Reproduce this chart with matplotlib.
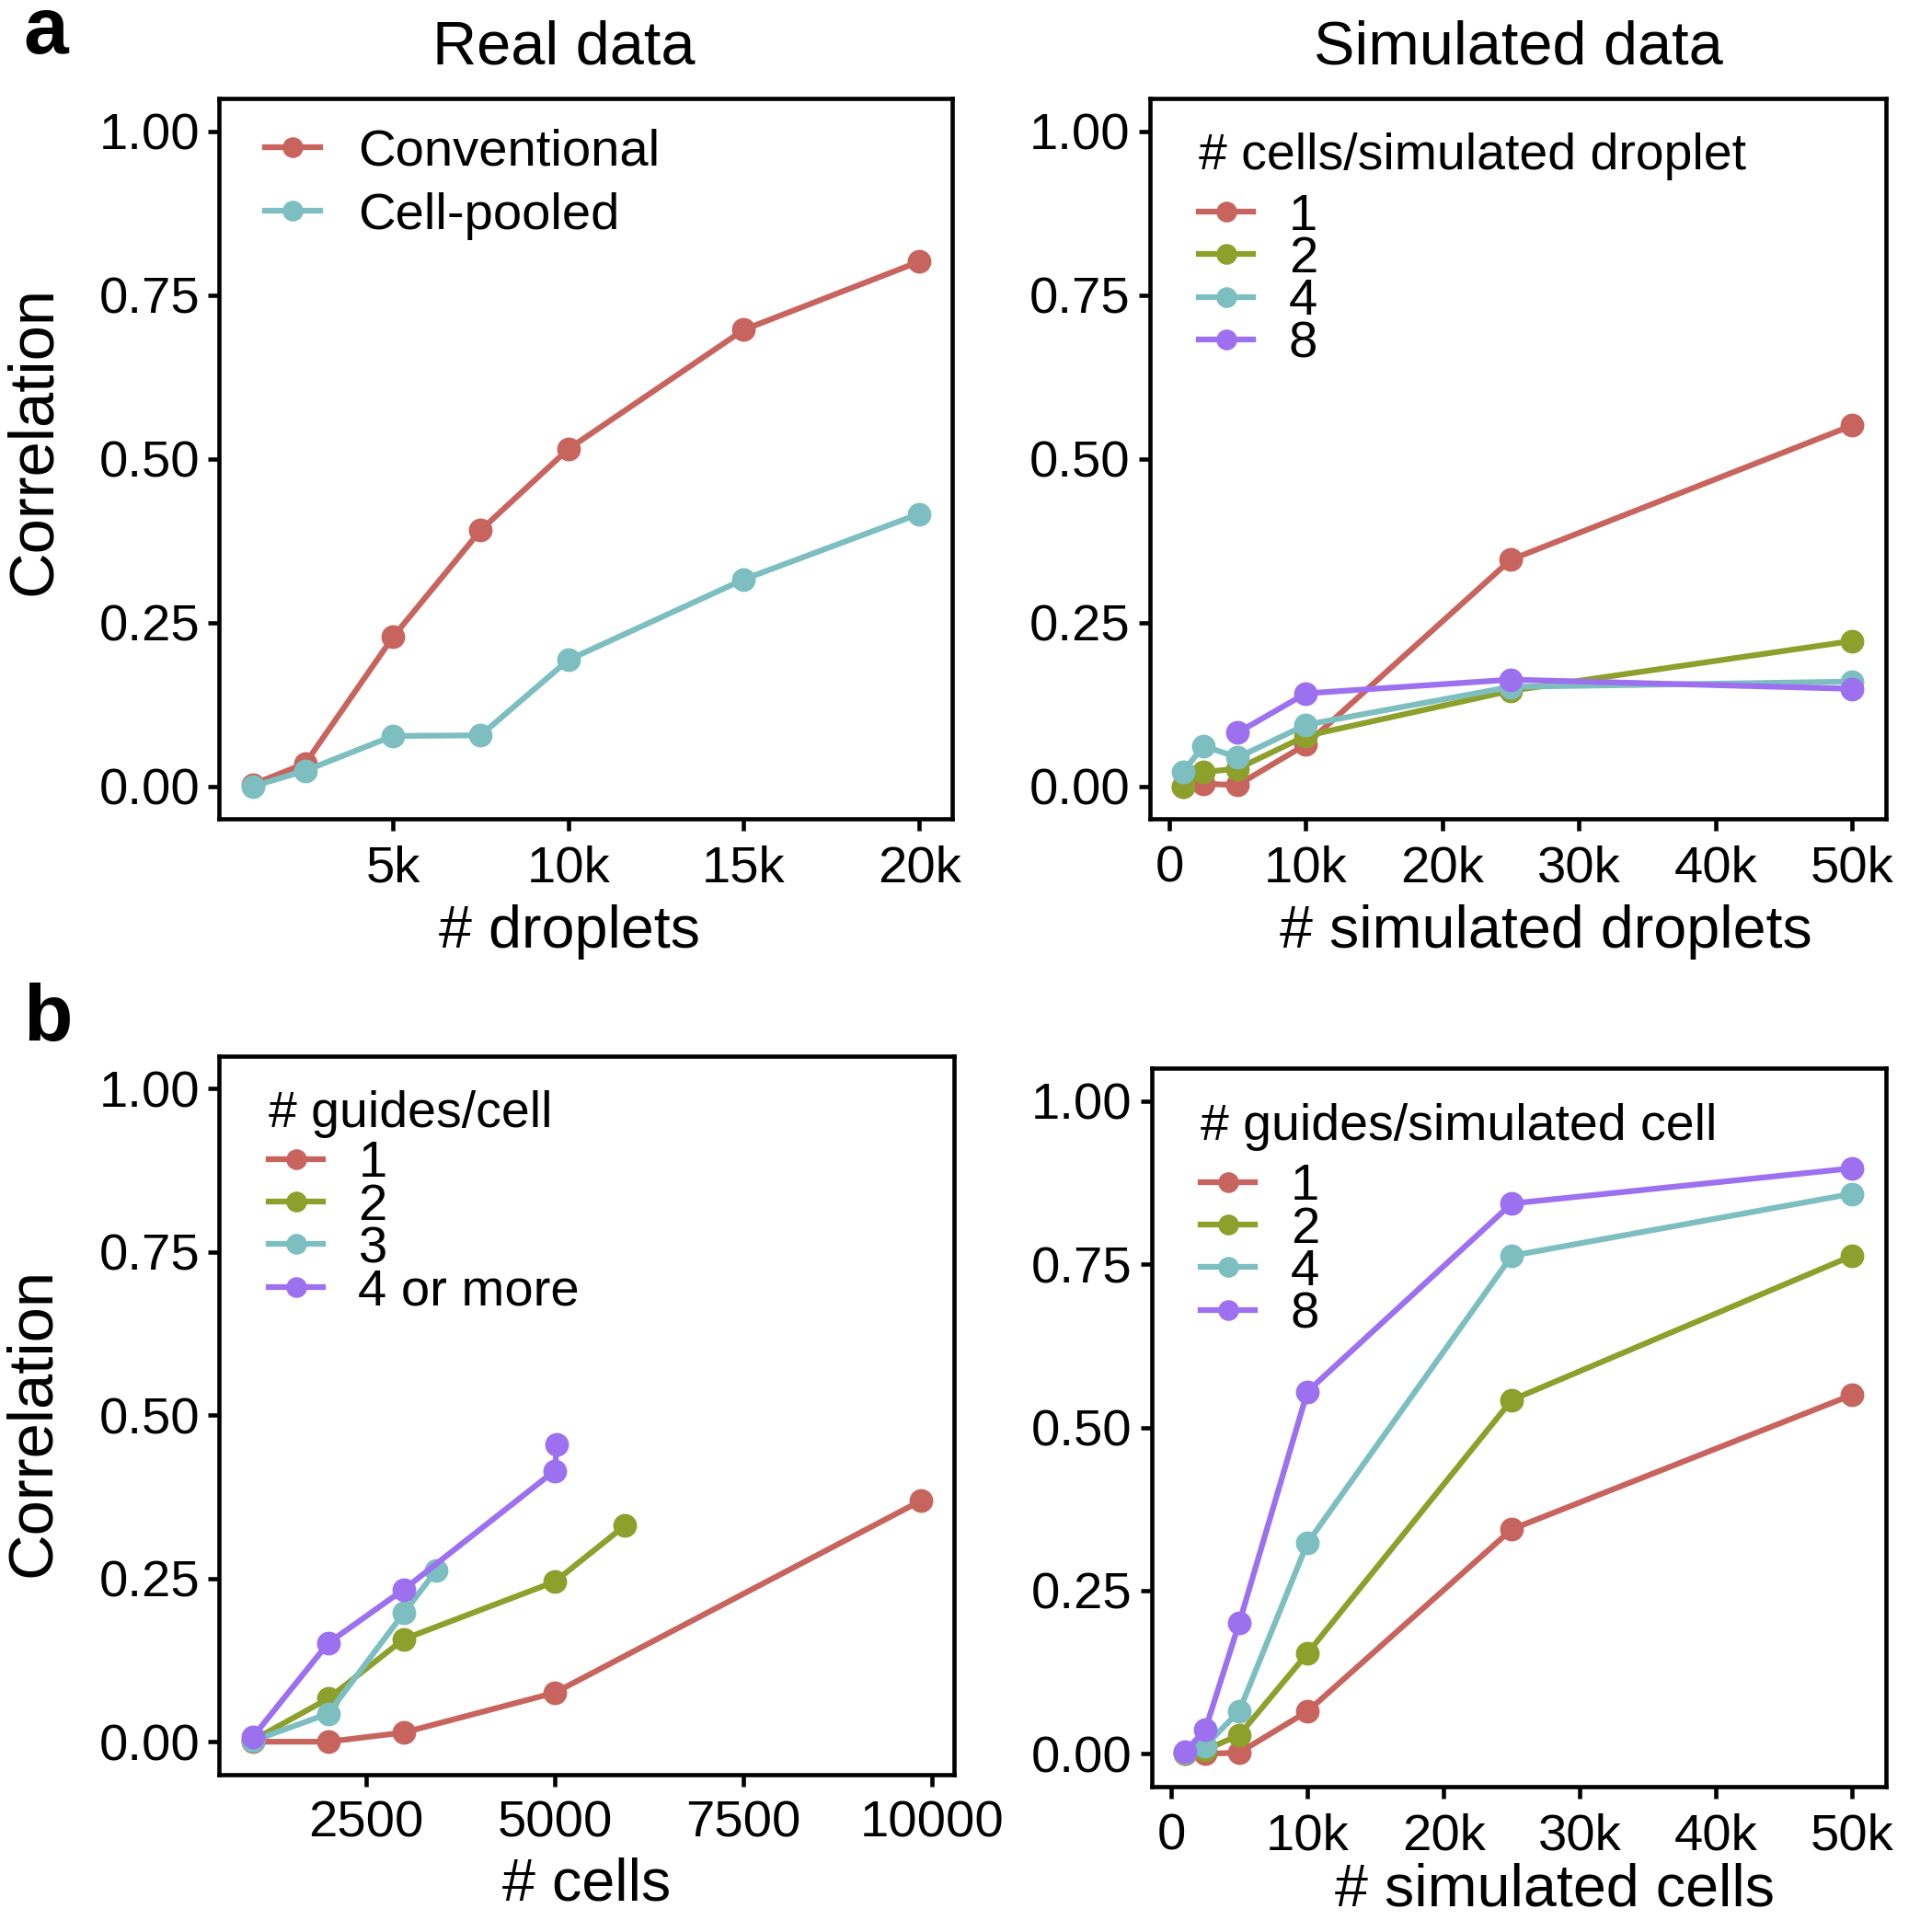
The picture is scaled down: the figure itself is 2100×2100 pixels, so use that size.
import matplotlib
matplotlib.use('Agg')
import matplotlib.pyplot as plt
import numpy as np

plt.rcParams['font.family'] = ['Liberation Sans', 'DejaVu Sans']

# colours (muted ggplot hues)
c_red = '#C8645E'
c_green = '#8DA02B'
c_teal = '#7DBEC0'
c_purple = '#9D70F0'

# ---------- panel a, real data ----------
droplets = [1000, 2500, 5000, 7500, 10000, 15000, 20000]
conventional = [0.003, 0.035, 0.228, 0.391, 0.515, 0.697, 0.801]
cell_pooled = [0.000, 0.024, 0.077, 0.078, 0.193, 0.316, 0.416]

# ---------- panel a, simulated data ----------
sim_droplets = [1000, 2500, 5000, 10000, 25000, 50000]
sim_drop_labels = ['1', '2', '4', '8']
sim_drop_1 = [0.000, 0.004, 0.002, 0.064, 0.346, 0.551]
sim_drop_2 = [0.000, 0.022, 0.027, 0.077, 0.146, 0.222]
sim_drop_4 = [0.022, 0.062, 0.044, 0.094, 0.152, 0.160]
sim_drop_8 = [np.nan, np.nan, 0.082, 0.142, 0.163, 0.149]

# ---------- panel b, real data ----------
guide_labels = ['1', '2', '3', '4 or more']
cells_g1 = [1000, 2000, 3000, 5000, 9850]
corr_g1 = [0.000, 0.000, 0.014, 0.075, 0.369]
cells_g2 = [1000, 2000, 3000, 5000, 5930]
corr_g2 = [0.002, 0.066, 0.157, 0.245, 0.331]
cells_g3 = [1000, 2000, 3000, 3430]
corr_g3 = [0.001, 0.043, 0.197, 0.262]
cells_g4 = [1000, 2000, 3000, 5000, 5030]
corr_g4 = [0.007, 0.151, 0.233, 0.415, 0.455]

# ---------- panel b, simulated data ----------
sim_cells = [1000, 2500, 5000, 10000, 25000, 50000]
sim_guide_labels = ['1', '2', '4', '8']
sim_g1 = [0.000, 0.000, 0.002, 0.065, 0.344, 0.550]
sim_g2 = [0.000, 0.006, 0.029, 0.154, 0.542, 0.763]
sim_g4 = [0.002, 0.012, 0.066, 0.323, 0.763, 0.858]
sim_g8 = [0.003, 0.037, 0.201, 0.555, 0.843, 0.897]

y_ticks = [0, 0.25, 0.5, 0.75, 1.0]
y_ticklabels = ['0.00', '0.25', '0.50', '0.75', '1.00']
k_ticks = [0, 10000, 20000, 30000, 40000, 50000]
k_ticklabels = ['0', '10k', '20k', '30k', '40k', '50k']

lw = 1.5
ms = 5.2
fs_tick = 13.5
fs_lab = 15.5
fs_ylab = 16.5
fs_leg = 13.5


def style(ax):
    for s in ax.spines.values():
        s.set_linewidth(1.1)
    ax.tick_params(direction='out', length=3, width=1.1, labelsize=fs_tick,
                   colors='black')
    ax.tick_params(axis='x', pad=3.8)
    ax.tick_params(axis='y', pad=2)
    ax.set_ylim(-0.05, 1.05)
    ax.set_yticks(y_ticks)
    ax.set_yticklabels(y_ticklabels)


def line(ax, x, y, col, lab):
    ax.plot(x, y, '-o', color=col, lw=lw, ms=ms, label=lab)


def group_legend(ax, title, title_gap):
    leg = ax.legend(loc='upper left', bbox_to_anchor=(0.004, 1.017), borderaxespad=0,
                    frameon=False, fontsize=fs_leg, title=title, title_fontsize=13.3,
                    handlelength=1.05, handletextpad=0.68, labelspacing=-0.1,
                    borderpad=0.9, markerscale=0.85)
    leg._legend_box.align = 'left'
    # extra room between the title and the first entry
    leg._legend_box.sep = title_gap
    return leg


fig = plt.figure(figsize=(7, 7), dpi=300)

ax1 = fig.add_axes([0.1135, 0.576, 0.3795, 0.373])
ax2 = fig.add_axes([0.595, 0.576, 0.381, 0.373])
ax3 = fig.add_axes([0.1135, 0.0816, 0.3805, 0.3718])
ax4 = fig.add_axes([0.596, 0.0753, 0.380, 0.3717])

# a left
line(ax1, droplets, conventional, c_red, 'Conventional')
line(ax1, droplets, cell_pooled, c_teal, 'Cell-pooled')
style(ax1)
ax1.set_xlim(50, 20950)
ax1.set_xticks([5000, 10000, 15000, 20000])
ax1.set_xticklabels(['5k', '10k', '15k', '20k'])
ax1.set_xlabel('# droplets', fontsize=fs_lab)
ax1.xaxis.set_label_coords(0.478, -0.118)
ax1.set_ylabel('Correlation', fontsize=fs_ylab)
ax1.yaxis.set_label_coords(-0.213, 0.525)
ax1.legend(loc='upper left', bbox_to_anchor=(0.034, 0.987), borderaxespad=0,
           frameon=False, fontsize=13.5, handlelength=1.07, handletextpad=0.72,
           labelspacing=0.3, markerscale=0.85)

# a right
for yy, col, lab in zip([sim_drop_1, sim_drop_2, sim_drop_4, sim_drop_8],
                        [c_red, c_green, c_teal, c_purple], sim_drop_labels):
    line(ax2, sim_droplets, yy, col, lab)
style(ax2)
ax2.set_xlim(-1450, 52450)
ax2.set_xticks(k_ticks)
ax2.set_xticklabels(k_ticklabels)
ax2.set_xlabel('# simulated droplets', fontsize=fs_lab)
ax2.xaxis.set_label_coords(0.539, -0.118)
group_legend(ax2, '# cells/simulated droplet', 3.2)

# b left
for xx, yy, col, lab in zip([cells_g1, cells_g2, cells_g3, cells_g4],
                            [corr_g1, corr_g2, corr_g3, corr_g4],
                            [c_red, c_green, c_teal, c_purple], guide_labels):
    line(ax3, xx, yy, col, lab)
style(ax3)
ax3.set_xlim(558, 10292)
ax3.set_xticks([2500, 5000, 7500, 10000])
ax3.set_xticklabels(['2500', '5000', '7500', '10000'])
ax3.set_xlabel('# cells', fontsize=fs_lab)
ax3.xaxis.set_label_coords(0.50, -0.115)
ax3.set_ylabel('Correlation', fontsize=fs_ylab)
ax3.yaxis.set_label_coords(-0.213, 0.49)
group_legend(ax3, '# guides/cell', 0.5)

# b right
for yy, col, lab in zip([sim_g1, sim_g2, sim_g4, sim_g8],
                        [c_red, c_green, c_teal, c_purple], sim_guide_labels):
    line(ax4, sim_cells, yy, col, lab)
style(ax4)
ax4.set_xlim(-1450, 52450)
ax4.set_xticks(k_ticks)
ax4.set_xticklabels(k_ticklabels)
ax4.set_xlabel('# simulated cells', fontsize=fs_lab)
ax4.xaxis.set_label_coords(0.549, -0.106)
group_legend(ax4, '# guides/simulated cell', 3.3)

fig.text(0.292, 0.975, 'Real data', fontsize=16, ha='center', va='center')
fig.text(0.786, 0.975, 'Simulated data', fontsize=16, ha='center', va='center')
fig.text(0.012, 0.983, 'a', fontsize=21, fontweight='bold', ha='left', va='center')
fig.text(0.012, 0.472, 'b', fontsize=21, fontweight='bold', ha='left', va='center')

fig.savefig('out.png', dpi=300, facecolor='white')
